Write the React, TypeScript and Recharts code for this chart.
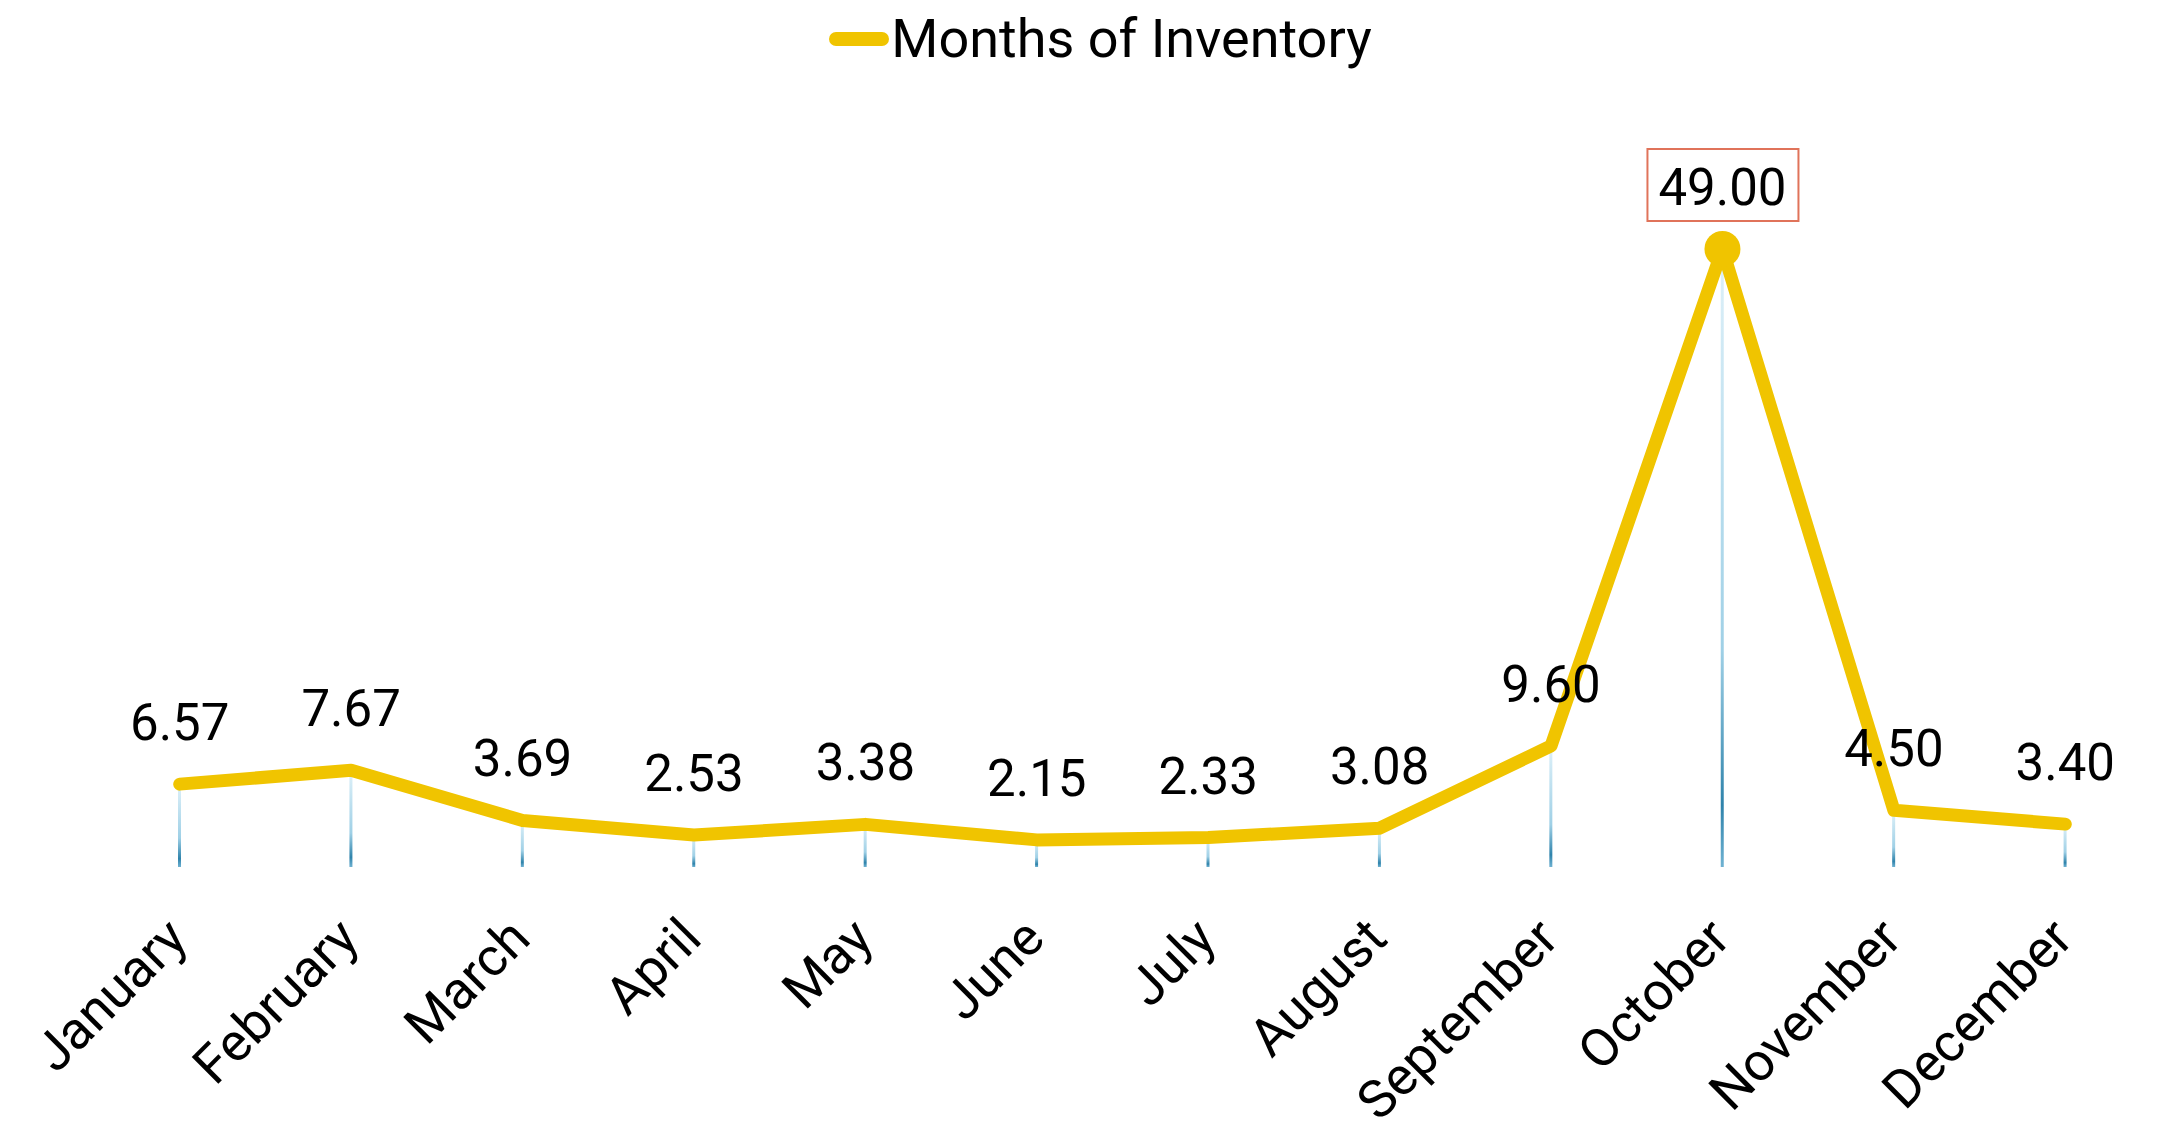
import { ComposedChart, Line, Bar, XAxis, YAxis, Legend, LabelList } from "recharts";

const months = [
  "January",
  "February",
  "March",
  "April",
  "May",
  "June",
  "July",
  "August",
  "September",
  "October",
  "November",
  "December",
];
const monthsOfInventory = [6.57, 7.67, 3.69, 2.53, 3.38, 2.15, 2.33, 3.08, 9.6, 49.0, 4.5, 3.4];

const data = months.map((month, i) => ({ month, value: monthsOfInventory[i] }));
const maxValue = Math.max(...monthsOfInventory);

const YELLOW = "#f0c400";
const FONT = "Roboto, 'Noto Sans', sans-serif";

function MonthTick({ x, y, payload }: any) {
  const ax = x + 10;
  const ay = y + 66;
  return (
    <text
      x={ax}
      y={ay}
      transform={`rotate(-45, ${ax}, ${ay})`}
      textAnchor="end"
      fontSize={53}
      fontFamily={FONT}
      fill="#000"
    >
      {payload.value}
    </text>
  );
}

function ValueLabel({ x, y, value }: any) {
  const text = Number(value).toFixed(2);
  const isMax = value === maxValue;
  return (
    <g>
      {isMax && (
        <rect
          x={x - 75}
          y={y - 100}
          width={151}
          height={72}
          fill="#fff"
          stroke="#e0735a"
          strokeWidth={2}
        />
      )}
      <text x={x} y={y - 44} textAnchor="middle" fontSize={51} fontFamily={FONT} fill="#000">
        {text}
      </text>
    </g>
  );
}

function PeakDot({ cx, cy, payload, index }: any) {
  if (payload.value !== maxValue) return <g key={index} />;
  return <circle key={index} cx={cx} cy={cy} r={18} fill={YELLOW} />;
}

function LegendContent() {
  return (
    <div
      style={{
        height: 80,
        display: "flex",
        justifyContent: "center",
        alignItems: "flex-start",
        paddingLeft: 32,
      }}
    >
      <div style={{ display: "flex", alignItems: "center", marginTop: 8 }}>
        <div style={{ width: 60, height: 14, borderRadius: 7, background: YELLOW, marginRight: 2 }} />
        <span style={{ fontSize: 54, fontFamily: FONT, color: "#000", lineHeight: "62px" }}>
          Months of Inventory
        </span>
      </div>
    </div>
  );
}

export default function App() {
  return (
    <div style={{ position: "absolute", left: 0, top: 0, background: "#fff" }}>
      <ComposedChart
        width={2169}
        height={1123}
        data={data}
        margin={{ top: 169, right: 18, left: 94, bottom: 0 }}
      >
        <defs>
          <linearGradient id="dropGrad" x1="0" y1="0" x2="0" y2="1">
            <stop offset="0%" stopColor="#dff1f9" />
            <stop offset="65%" stopColor="#9fd0e6" />
            <stop offset="90%" stopColor="#2f83ab" />
            <stop offset="100%" stopColor="#6fb2d2" />
          </linearGradient>
        </defs>
        <XAxis
          dataKey="month"
          axisLine={false}
          tickLine={false}
          interval={0}
          height={256}
          tick={<MonthTick />}
        />
        <YAxis hide domain={[0, 49]} />
        <Legend
          verticalAlign="top"
          content={<LegendContent />}
          wrapperStyle={{ top: 0, left: 0, width: 2169 }}
        />
        <Line
          dataKey="value"
          name="Months of Inventory"
          stroke={YELLOW}
          strokeWidth={13}
          strokeLinecap="round"
          strokeLinejoin="round"
          dot={<PeakDot />}
          activeDot={false}
          isAnimationActive={false}
        >
          <LabelList dataKey="value" content={<ValueLabel />} />
        </Line>
        <Bar dataKey="value" barSize={3} fill="url(#dropGrad)" isAnimationActive={false} legendType="none" />
      </ComposedChart>
    </div>
  );
}
